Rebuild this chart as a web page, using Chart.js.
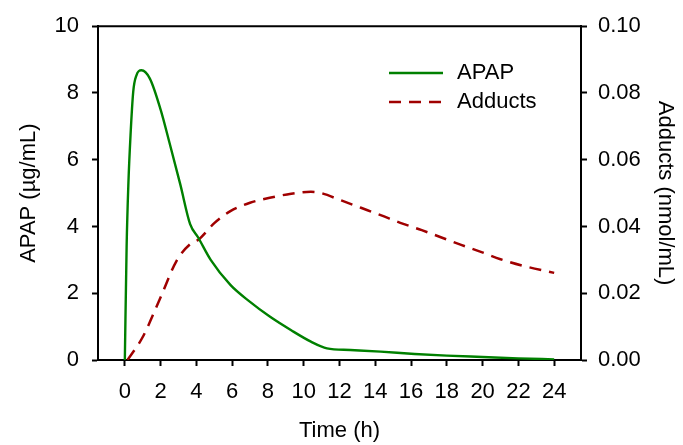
<!DOCTYPE html>
<html>
<head>
<meta charset="utf-8">
<script src="https://cdn.jsdelivr.net/npm/chart.js@4/dist/chart.umd.min.js"></script>
<style>
  html, body { margin: 0; padding: 0; background: #fff; }
  #wrap { width: 683px; height: 445px; }
</style>
</head>
<body>
<div id="wrap"><canvas id="pk_chart"></canvas></div>
<script>
// values
const apap_times = [0, 0.1, 0.2, 0.32, 0.47, 0.65, 0.93, 1.4, 2.0, 2.5, 3.1, 3.65, 4.1, 4.8, 5.9, 7.0, 8.1, 9.3, 10.4, 11.3, 12.6, 14.3, 16.2, 18.0, 20.0, 22.0, 24.0];
const apap_values = [0, 3.4, 5.3, 6.75, 8.04, 8.53, 8.68, 8.43, 7.5, 6.5, 5.26, 4.07, 3.67, 3.0, 2.25, 1.74, 1.3, 0.89, 0.55, 0.35, 0.30, 0.25, 0.18, 0.13, 0.09, 0.05, 0.02];

const adduct_times = [0.15, 1.0, 2.0, 2.9, 3.65, 4.15, 5.0, 5.9, 7.0, 8.1, 9.3, 10.4, 10.9, 12.1, 13.2, 14.3, 15.4, 16.6, 17.7, 18.8, 19.9, 21.0, 22.2, 24.0];
const adduct_values = [0, 0.0069, 0.0188, 0.0298, 0.0347, 0.0362, 0.041, 0.0446, 0.0471, 0.0486, 0.0498, 0.0504, 0.0501, 0.0478, 0.0456, 0.0434, 0.0411, 0.0389, 0.0367, 0.0345, 0.0324, 0.0302, 0.0283, 0.0261];

const x_ticks = [0, 2, 4, 6, 8, 10, 12, 14, 16, 18, 20, 22, 24];
const labels = ["APAP", "Adducts"];
const colours = ["#008000", "#a00000"];

const font_family = "'Liberation Sans', Arial, sans-serif";
const font_size = 22;

function toPoints(xs, ys) {
  let pts = [];
  for (let i = 0; i < xs.length; i++) {
    pts.push({ x: xs[i], y: ys[i] });
  }
  return pts;
}

// top frame line + legend inside the plot
const framePlugin = {
  id: "frame",
  afterDraw(chart) {
    const ctx = chart.ctx;
    const area = chart.chartArea;
    ctx.save();
    ctx.strokeStyle = "#000";
    ctx.lineWidth = 2;
    ctx.beginPath();
    ctx.moveTo(area.left, area.top);
    ctx.lineTo(area.right, area.top);
    ctx.stroke();

    const rows = [
      { y: 73, dash: [], colour: colours[0], text: labels[0] },
      { y: 102, dash: [12, 8], colour: colours[1], text: labels[1] }
    ];
    ctx.font = font_size + "px " + font_family;
    ctx.textBaseline = "middle";
    ctx.fillStyle = "#000";
    rows.forEach(r => {
      ctx.strokeStyle = r.colour;
      ctx.setLineDash(r.dash);
      ctx.lineWidth = 2.3;
      ctx.beginPath();
      ctx.moveTo(389, r.y);
      ctx.lineTo(443, r.y);
      ctx.stroke();
      ctx.fillText(r.text, 457, r.y);
    });
    ctx.restore();
  }
};

const ctx_line = document.getElementById("pk_chart").getContext("2d");

new Chart(ctx_line, {
  type: "line",
  data: {
    datasets: [
      {
        label: labels[0],
        data: toPoints(apap_times, apap_values),
        yAxisID: "y",
        borderColor: colours[0],
        backgroundColor: colours[0],
        borderWidth: 2.4,
        pointRadius: 0,
        fill: false,
        cubicInterpolationMode: "monotone"
      },
      {
        label: labels[1],
        data: toPoints(adduct_times, adduct_values),
        yAxisID: "y2",
        borderColor: colours[1],
        backgroundColor: colours[1],
        borderWidth: 2.5,
        borderDash: [12, 8],
        pointRadius: 0,
        fill: false,
        cubicInterpolationMode: "monotone"
      }
    ]
  },
  options: {
    responsive: true,
    maintainAspectRatio: false,
    animation: false,
    layout: { padding: { top: 24, left: 0, right: 0, bottom: 0 } },
    plugins: {
      legend: { display: false },
      tooltip: { enabled: false }
    },
    scales: {
      x: {
        type: "linear",
        min: -1.5,
        max: 25.5,
        afterBuildTicks: (scale) => { scale.ticks = x_ticks.map(v => ({ value: v })); },
        afterFit: (scale) => { scale.height = 85; },
        ticks: {
          color: "#000",
          font: { size: font_size, family: font_family },
          padding: 13,
          maxRotation: 0,
          autoSkip: false
        },
        grid: { drawOnChartArea: false, drawTicks: true, tickLength: 6, tickWidth: 2, tickColor: "#000" },
        border: { display: true, color: "#000", width: 2 },
        title: {
          display: true,
          text: "Time (h)",
          color: "#000",
          font: { size: font_size, family: font_family },
          padding: { top: 0, bottom: 1 }
        }
      },
      y: {
        position: "left",
        min: 0,
        max: 10,
        afterFit: (scale) => { scale.width = 98; },
        ticks: {
          stepSize: 2,
          color: "#000",
          font: { size: font_size, family: font_family },
          padding: 13
        },
        grid: { drawOnChartArea: false, drawTicks: true, tickLength: 6, tickWidth: 2, tickColor: "#000" },
        border: { display: true, color: "#000", width: 2 },
        title: {
          display: true,
          text: "APAP (µg/mL)",
          color: "#000",
          font: { size: font_size, family: font_family },
          padding: { top: 16, bottom: 0 }
        }
      },
      y2: {
        position: "right",
        min: 0,
        max: 0.1,
        afterFit: (scale) => { scale.width = 102; },
        ticks: {
          stepSize: 0.02,
          color: "#000",
          font: { size: font_size, family: font_family },
          padding: 11,
          callback: (v) => Number(v).toFixed(2)
        },
        grid: { drawOnChartArea: false, drawTicks: true, tickLength: 6, tickWidth: 2, tickColor: "#000" },
        border: { display: true, color: "#000", width: 2 },
        title: {
          display: true,
          text: "Adducts (nmol/mL)",
          color: "#000",
          font: { size: font_size, family: font_family },
          padding: { top: 5, bottom: 0 }
        }
      }
    }
  },
  plugins: [framePlugin]
});
</script>
</body>
</html>
